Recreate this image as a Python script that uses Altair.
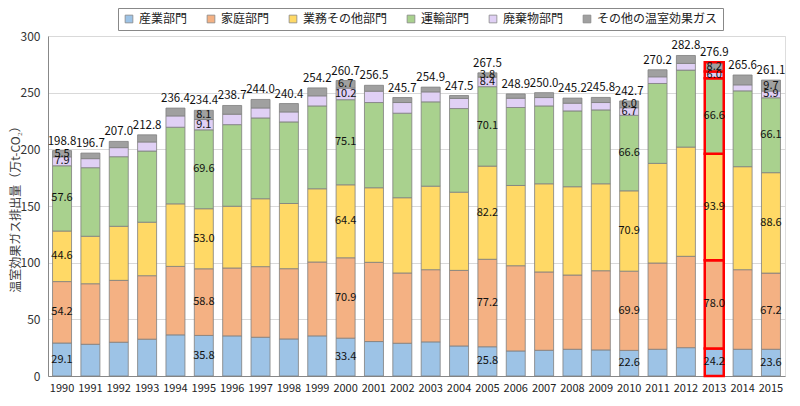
import altair as alt
import pandas as pd

years = [str(y) for y in range(1990, 2016)]
sectors = ["産業部門", "家庭部門", "業務その他部門", "運輸部門", "廃棄物部門", "その他の温室効果ガス"]
colors = ["#9DC3E6", "#F4B183", "#FFD966", "#A9D18E", "#E0D0F5", "#A0A0A0"]

industry = [29.1, 28.0, 29.8, 32.5, 36.3, 35.8, 35.4, 34.2, 32.7, 35.4, 33.4, 30.4, 28.9, 30.1, 26.5, 25.8, 22.1, 22.7, 23.6, 23.0, 22.6, 23.6, 25.0, 24.2, 23.6, 23.6]
household = [54.2, 53.4, 54.6, 56.0, 60.4, 58.8, 59.9, 62.3, 62.0, 65.2, 70.9, 69.9, 62.0, 63.7, 66.7, 77.2, 75.2, 69.1, 65.5, 69.9, 69.9, 76.1, 80.6, 78.0, 70.2, 67.2]
commercial = [44.6, 41.9, 47.7, 47.2, 55.2, 53.0, 54.5, 59.9, 57.5, 64.6, 64.4, 65.8, 66.4, 73.7, 69.0, 82.2, 70.8, 77.8, 77.9, 76.7, 70.9, 87.9, 96.4, 93.9, 90.9, 88.6]
transport = [57.6, 60.5, 61.4, 62.8, 67.6, 69.6, 72.0, 71.3, 72.0, 73.1, 75.1, 75.2, 74.6, 74.4, 73.8, 70.1, 68.8, 68.7, 66.9, 65.2, 66.6, 70.5, 67.9, 66.6, 66.9, 66.1]
waste = [7.9, 8.0, 8.0, 8.0, 10.0, 9.1, 9.2, 8.8, 8.8, 8.9, 10.2, 10.0, 9.4, 8.8, 8.9, 8.4, 8.2, 7.4, 6.8, 6.5, 6.7, 5.9, 5.9, 6.0, 5.3, 5.9]
other = [5.5, 4.9, 5.5, 6.3, 6.9, 8.1, 7.7, 7.5, 7.4, 7.0, 6.7, 5.2, 4.4, 4.2, 2.6, 3.8, 3.8, 4.3, 4.5, 4.5, 6.0, 6.2, 7.0, 8.2, 8.7, 9.7]
totals = [198.8, 196.7, 207.0, 212.8, 236.4, 234.4, 238.7, 244.0, 240.4, 254.2, 260.7, 256.5, 245.7, 254.9, 247.5, 267.5, 248.9, 250.0, 245.2, 245.8, 242.7, 270.2, 282.8, 276.9, 265.6, 261.1]
label_years = ["1990", "1995", "2000", "2005", "2010", "2013", "2015"]
highlight_year = "2013"

series = [industry, household, commercial, transport, waste, other]
rows = []
for si, (name, vals) in enumerate(zip(sectors, series)):
    for y, v in zip(years, vals):
        rows.append({"year": y, "sector": name, "idx": si, "value": v,
                     "lab": y in label_years})
df = pd.DataFrame(rows)
tot = pd.DataFrame({"year": years, "total": totals})

FONT = "Noto Sans CJK JP"

xenc = alt.X("year:N", sort=years,
             scale=alt.Scale(paddingInner=0.33, paddingOuter=0.16),
             axis=alt.Axis(title=None, labelAngle=0, ticks=False, labelPadding=6,
                           labelFontSize=11, labelColor="#222", labelFont=FONT,
                           domainColor="#888"))

yscale = alt.Scale(domain=[0, 300], nice=False)

bars = alt.Chart(df).mark_bar().encode(
    x=xenc,
    y=alt.Y("value:Q", stack="zero", scale=yscale,
            axis=alt.Axis(title="温室効果ガス排出量（万t-CO₂）", values=[0, 50, 100, 150, 200, 250, 300],
                          ticks=False, labelPadding=8, labelFontSize=12, labelColor="#333",
                          labelFont=FONT, gridColor="#d9d9d9", domainColor="#888",
                          titleFont=FONT, titleFontSize=12, titleFontWeight="normal",
                          titleColor="#404040", titleX=-33, titleY=170, titleAngle=-90,
                          titleAlign="center", titleBaseline="middle")),
    color=alt.Color("sector:N", sort=sectors,
                    scale=alt.Scale(domain=sectors, range=colors),
                    legend=alt.Legend(title=None, orient="none", legendX=70, legendY=-28,
                                      direction="horizontal", columns=6, columnPadding=17,
                                      labelFont=FONT, labelFontSize=12, labelColor="#222",
                                      symbolType="square", symbolSize=60, symbolStrokeWidth=0.8,
                                      symbolStrokeColor="#888", strokeColor="#888",
                                      padding=5, labelOffset=4)),
    order=alt.Order("idx:Q", sort="ascending"),
    stroke=alt.condition(f"datum.year == '{highlight_year}'", alt.value("#FF0000"), alt.value("#7f7f7f")),
    strokeWidth=alt.condition(f"datum.year == '{highlight_year}'", alt.value(2.5), alt.value(0.8)),
)

seg_labels = alt.Chart(df).transform_stack(
    stack="value", as_=["y0", "y1"], groupby=["year"], sort=[alt.SortField("idx", order="ascending")]
).transform_calculate(
    mid="(datum.y0 + datum.y1) / 2"
).transform_filter("datum.lab").mark_text(
    fontSize=11, font=FONT, color="#111", baseline="middle"
).encode(
    x=alt.X("year:N", sort=years),
    y=alt.Y("mid:Q", scale=yscale),
    text=alt.Text("value:Q", format=".1f"),
)

tot_labels = alt.Chart(tot).mark_text(
    fontSize=11.5, font=FONT, color="#111", baseline="bottom", dy=-4
).encode(
    x=alt.X("year:N", sort=years),
    y=alt.Y("total:Q", scale=yscale),
    text=alt.Text("total:Q", format=".1f"),
)

chart = alt.layer(bars, seg_labels, tot_labels).properties(
    width=737, height=340,
    padding={"left": 40, "top": 28, "right": 7, "bottom": 22},
    autosize=alt.AutoSizeParams(type="none"),
).configure_view(stroke="#999", strokeWidth=1).configure(background="white")

chart.save("out.html", embed_options={"renderer": "svg", "actions": False})
